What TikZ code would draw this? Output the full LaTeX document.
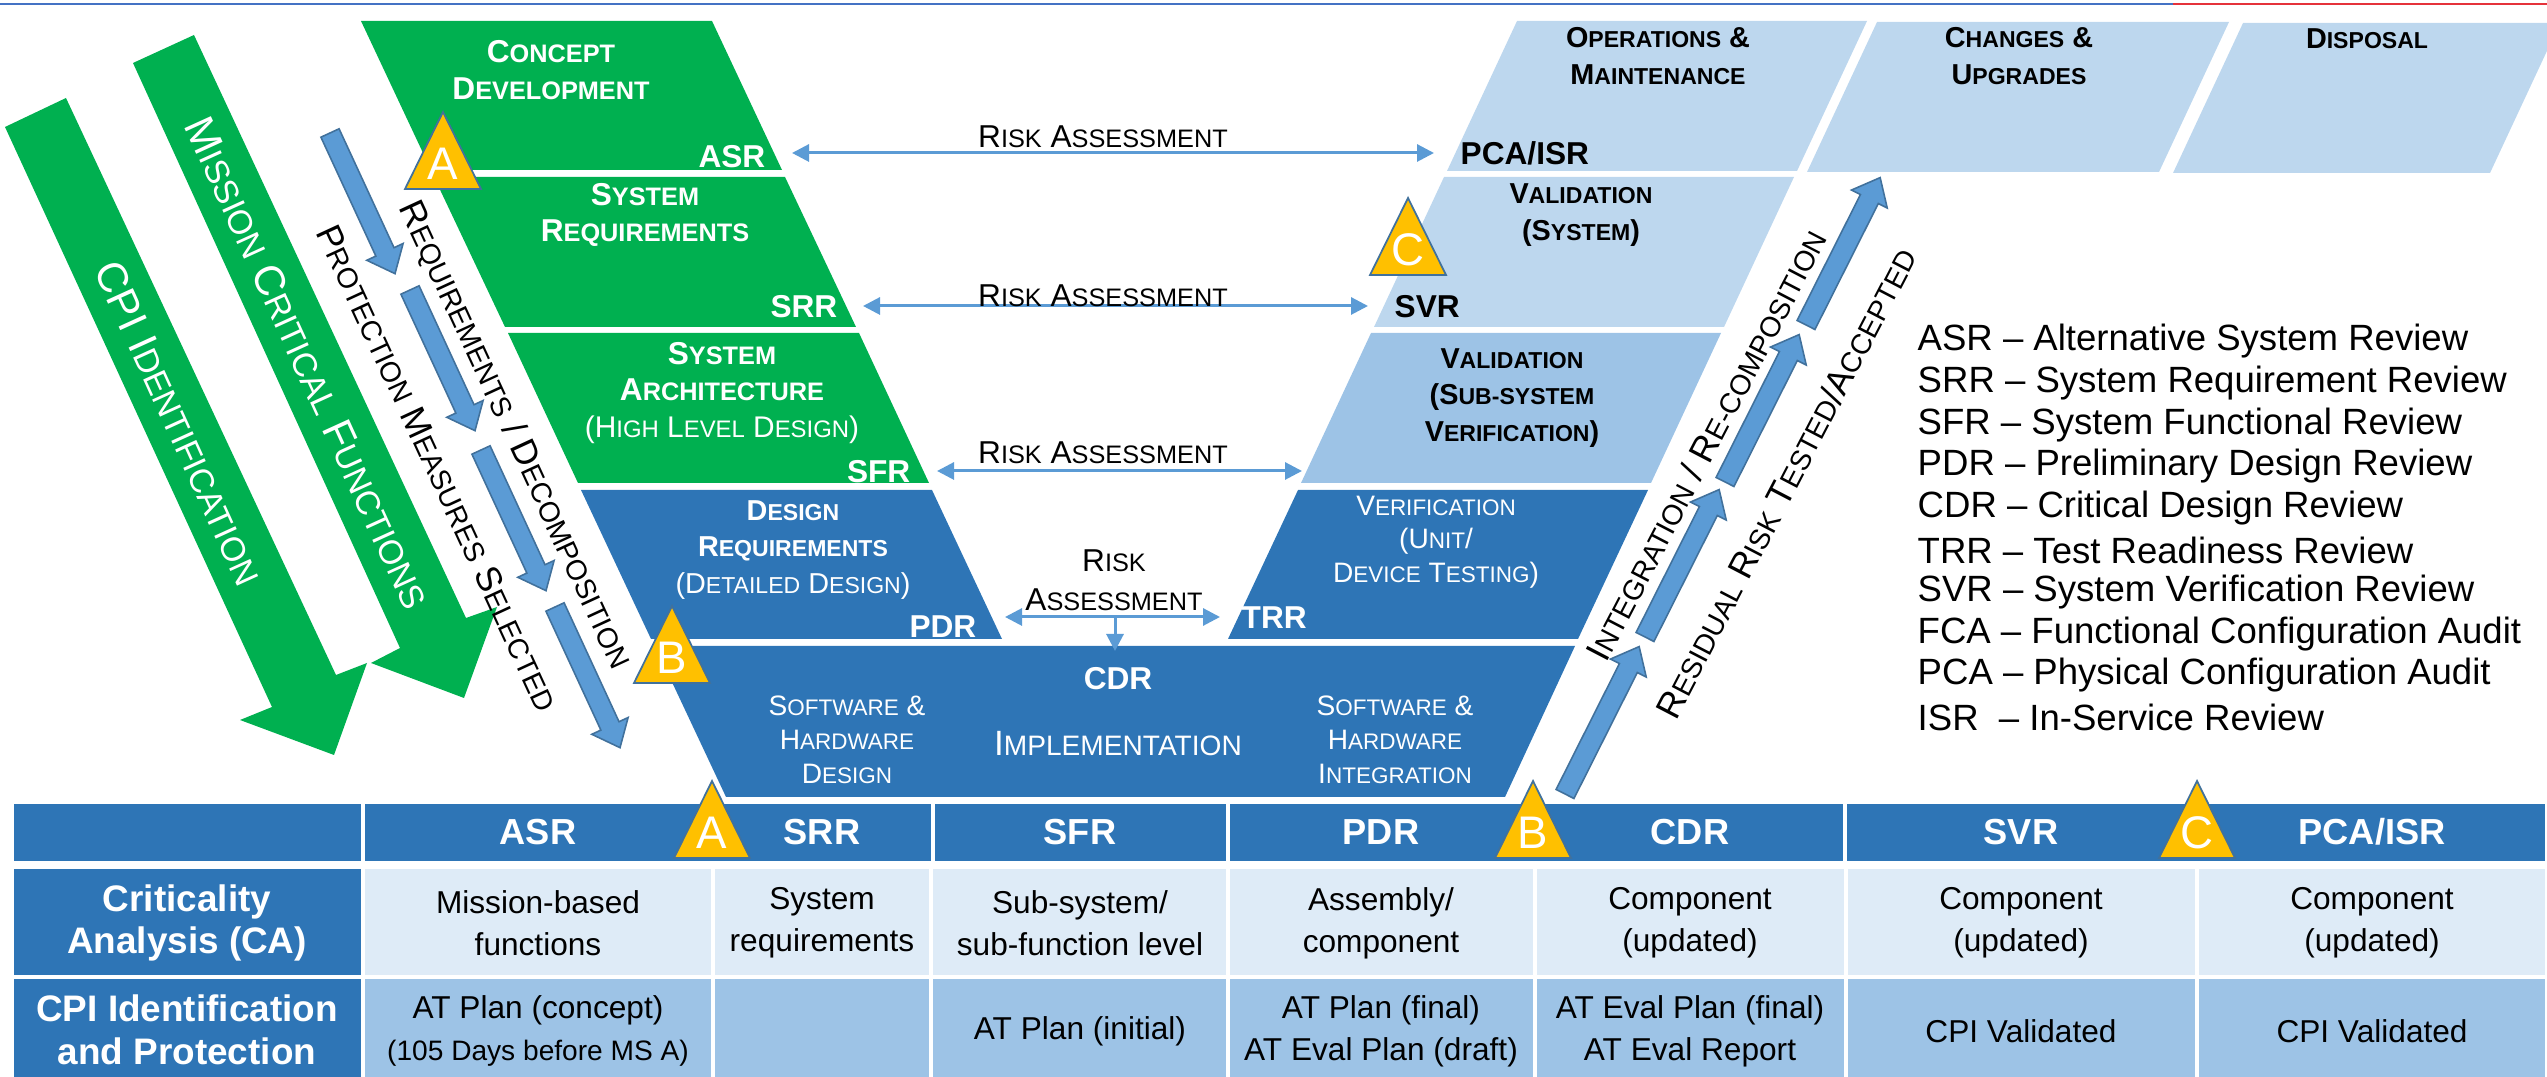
\documentclass[tikz,border=0pt]{standalone}
\usepackage{fontspec}
\setmainfont{Liberation Sans}
\usetikzlibrary{positioning,calc,arrows.meta}

\definecolor{vgreen}{HTML}{00B050}
\definecolor{vblue}{HTML}{2E75B6}
\definecolor{vpale}{HTML}{BDD7EE}
\definecolor{vmid}{HTML}{9DC3E6}
\definecolor{vlight}{HTML}{DEEBF7}
\definecolor{varrow}{HTML}{5B9BD5}
\definecolor{vedge}{HTML}{41719C}
\definecolor{vgold}{HTML}{FFC000}
\definecolor{vline}{HTML}{4472C4}
\definecolor{vred}{HTML}{E5323B}

\makeatletter
\newcommand\smc[1]{{\fontsize{\fpeval{0.8*\f@size}}{\f@baselineskip}\selectfont#1}}
\makeatother

\begin{document}
\begin{tikzpicture}[x=0.1mm, y=-0.1mm,
    every node/.style={inner sep=0pt},
    gtitle/.style={text=white, font=\fontsize{9}{10.3}\selectfont\bfseries, align=center},
    btitle/.style={text=white, font=\fontsize{8.2}{10.5}\selectfont\bfseries, align=center},
    ktitle/.style={text=black, font=\fontsize{8.2}{10.3}\selectfont\bfseries, align=center},
    wsub/.style={text=white, font=\fontsize{8}{9.6}\selectfont, align=center},
    review/.style={font=\fontsize{9}{10}\selectfont\bfseries},
    risktext/.style={font=\fontsize{9}{11}\selectfont, align=center},
    riskarr/.style={draw=varrow, line width=0.85pt, arrows={Triangle[length=1.7mm,width=1.7mm]-Triangle[length=1.7mm,width=1.7mm]}},
    slanttext/.style={font=\fontsize{10.1}{12}\selectfont},
    bigslant/.style={text=white, font=\fontsize{12}{14}\selectfont},
    goldtri/.style={fill=vgold, draw=vedge, line width=0.5pt},
    tletter/.style={text=white, font=\fontsize{13}{15}\selectfont},
    thead/.style={text=white, font=\fontsize{10.3}{12}\selectfont\bfseries},
    tlabel/.style={text=white, font=\fontsize{10.5}{12.2}\selectfont\bfseries, align=center},
    tcell/.style={font=\fontsize{9}{12}\selectfont, align=center},
    legline/.style={anchor=west, font=\fontsize{10.4}{12}\selectfont},
    pics/blockarrow/.style={code={
      \filldraw[fill=varrow, draw=vedge, line width=0.45pt]
        (0,-10) -- ({#1-24},-10) -- ({#1-24},-20) -- (#1,0) -- ({#1-24},20) -- ({#1-24},10) -- (0,10) -- cycle;
    }}
  ]
  \useasboundingbox (0,0) rectangle (2547,1077);
  \clip (0,0) rectangle (2547,1077);

  % rule on top
  \draw[vline, line width=0.65pt] (0,4) -- (2173,4);
  \draw[vred, line width=0.65pt] (2173,4) -- (2547,4);

  % big arrows on the left
  \fill[vgreen] (5,127) -- (66,98) -- (336,675) -- (367,663) -- (334,755) -- (240,720) -- (272,707) -- cycle;
  \fill[vgreen] (133,63) -- (194,35) -- (466,618) -- (497,607) -- (464,698) -- (371,663) -- (400,648) -- cycle;
  \node[bigslant, rotate=-65.5] (cpi) at (179,423) {CPI I\smc{DENTIFICATION}};
  \node[bigslant, rotate=-65.5] (mcf) at (308,363) {M\smc{ISSION} C\smc{RITICAL} F\smc{UNCTIONS}};

  % left branch
  \fill[vgreen] (361,21) -- (712,21) -- (782,170) -- (431,170) -- cycle;
  \fill[vgreen] (434,177) -- (785,177) -- (856,327) -- (505,327) -- cycle;
  \fill[vgreen] (508,333) -- (859,333) -- (929,483) -- (578,483) -- cycle;
  \fill[vblue] (581,490) -- (932,490) -- (1002,639) -- (651,639) -- cycle;
  \fill[vblue] (655,646) -- (1575,646) -- (1505,797) -- (726,797) -- cycle;
  % right branch
  \fill[vblue] (1298,490) -- (1648,490) -- (1578,639) -- (1228,639) -- cycle;
  \fill[vmid] (1371,333) -- (1721,333) -- (1651,483) -- (1301,483) -- cycle;
  \fill[vpale] (1444,177) -- (1794,177) -- (1724,327) -- (1374,327) -- cycle;
  \fill[vpale] (1517,21) -- (1867,21) -- (1797,171) -- (1447,171) -- cycle;
  \fill[vpale] (1877,22) -- (2229,22) -- (2159,172) -- (1807,172) -- cycle;
  \fill[vpale] (2243,23) -- (2560,23) -- (2490,173) -- (2173,173) -- cycle;

  \node[gtitle] (cd) at (551,70) {C\smc{ONCEPT}\\D\smc{EVELOPMENT}};
  \node[gtitle] (sr) at (645,215) {S\smc{YSTEM}\\R\smc{EQUIREMENTS}};
  \node[gtitle] (sa) at (722,393) {S\smc{YSTEM}\\A\smc{RCHITECTURE}\\{\fontsize{8.5}{10}\selectfont\mdseries(H\smc{IGH} L\smc{EVEL} D\smc{ESIGN})}};
  \node[btitle] (dr) at (793,550) {D\smc{ESIGN}\\R\smc{EQUIREMENTS}\\{\mdseries(D\smc{ETAILED} D\smc{ESIGN})}};
  \node[wsub] (shd) at (847,740) {S\smc{OFTWARE} \&\\H\smc{ARDWARE}\\D\smc{ESIGN}};
  \node[wsub] (shi) at (1395,740) {S\smc{OFTWARE} \&\\H\smc{ARDWARE}\\I\smc{NTEGRATION}};
  \node[review, text=white] (cdr) at (1118,679) {CDR};
  \node[text=white, font=\fontsize{10}{12}\selectfont] (impl) at (1118,744) {I\smc{MPLEMENTATION}};
  \node[wsub] (ver) at (1436,542) {V\smc{ERIFICATION}\\(U\smc{NIT}/\\D\smc{EVICE} T\smc{ESTING})};
  \node[ktitle] (vss) at (1512,398) {V\smc{ALIDATION}\\(S\smc{UB-SYSTEM}\\V\smc{ERIFICATION})};
  \node[ktitle] (vsy) at (1581,215) {V\smc{ALIDATION}\\(S\smc{YSTEM})};
  \node[ktitle] (om) at (1658,56) {O\smc{PERATIONS} \&\\M\smc{AINTENANCE}};
  \node[ktitle] (cu) at (2019,56) {C\smc{HANGES} \&\\U\smc{PGRADES}};
  \node[ktitle] (dis) at (2367,39) {D\smc{ISPOSAL}};

  \node[review, text=white, anchor=east] (asr) at (766,157) {ASR};
  \node[review, text=white, anchor=east] (srr) at (838,307) {SRR};
  \node[review, text=white, anchor=east] (sfr) at (911,472) {SFR};
  \node[review, text=white, anchor=east] (pdr) at (977,627) {PDR};
  \node[review, text=white, anchor=west] (trr) at (1241,618) {TRR};
  \node[review, anchor=west] (svr) at (1394,307) {SVR};
  \node[review, anchor=west] (pca) at (1460,153) {PCA/ISR};

  % risk assessment links
  \foreach \i/\xa/\xb/\yy in {1/792/1434/153, 2/863/1368/306, 3/937/1302/471, 4/1005/1220/617}{
    \coordinate (ra\i) at (\xa,\yy);
    \coordinate (rb\i) at (\xb,\yy);
    \draw[riskarr] (ra\i) -- (rb\i);
  }
  \coordinate (rc) at (1115,617);
  \coordinate (rd) at (1115,651);
  \draw[draw=varrow, line width=0.85pt, -{Triangle[length=1.7mm,width=1.7mm]}] (rc) -- (rd);
  \node[risktext] (rt1) at (1103,137) {R\smc{ISK} A\smc{SSESSMENT}};
  \node[risktext] (rt2) at (1103,296) {R\smc{ISK} A\smc{SSESSMENT}};
  \node[risktext] (rt3) at (1103,453) {R\smc{ISK} A\smc{SSESSMENT}};
  \node[risktext] (rt4) at (1114,580) {R\smc{ISK}\\A\smc{SSESSMENT}};

  % small block arrows
  \foreach \sx/\sy in {330/133, 410/290, 481/450, 555/607}
    \pic[rotate=-65.2] at (\sx,\sy) {blockarrow=155};
  \foreach \sx/\sy in {1565/794, 1645/637, 1725/482, 1806/325}
    \pic[rotate=63.3] at (\sx,\sy) {blockarrow=165};
  \node[slanttext, rotate=-65.2] (pms) at (438,468) {P\smc{ROTECTION} M\smc{EASURES} S\smc{ELECTED}};
  \node[slanttext, rotate=-65.2] (rqd) at (515,435) {R\smc{EQUIREMENTS} / D\smc{ECOMPOSITION}};
  \node[slanttext, rotate=62.5] (irc) at (1706,445) {I\smc{NTEGRATION} / R\smc{E-COMPOSITION}};
  \node[slanttext, rotate=62.5] (rrt) at (1786,483) {R\smc{ESIDUAL} R\smc{ISK} T\smc{ESTED}/A\smc{CCEPTED}};

  % legend
  \foreach \i/\ab/\txt in {0/ASR/Alternative System Review, 1/SRR/System Requirement Review,
      2/SFR/System Functional Review, 3/PDR/Preliminary Design Review, 4/CDR/Critical Design Review,
      5/TRR/Test Readiness Review, 6/SVR/System Verification Review, 7/FCA/Functional Configuration Audit,
      8/PCA/Physical Configuration Audit}
    \node[legline] (leg\i) at (1917,341+41.8*\i) {\ab\ – \txt};
  \node[legline] (leg9) at (1917,717) {ISR\ \ – In-Service Review};

  % table
  \foreach \xa/\xb in {14/361, 365/931, 935/1226, 1230/1843, 1847/2545}
    \fill[vblue] (\xa,804) rectangle (\xb,861);
  \fill[vblue] (14,869) rectangle (361,975);
  \fill[vblue] (14,979) rectangle (361,1077);
  \foreach \xa/\xb in {365/711, 715/929, 933/1226, 1230/1533, 1537/1844, 1848/2195, 2199/2545}{
    \fill[vlight] (\xa,869) rectangle (\xb,975);
    \fill[vmid] (\xa,979) rectangle (\xb,1077);
  }
  \foreach \cx/\lab in {538/ASR, 822/SRR, 1080/SFR, 1381/PDR, 1690/CDR, 2021/SVR}
    \node[thead] (h\lab) at (\cx,832) {\lab};
  \node[thead] (hPCA) at (2372,832) {PCA/ISR};

  \node[tlabel] (ca) at (187,923) {Criticality\\Analysis (CA)};
  \node[tlabel] (cpip) at (187,1030) {CPI Identification\\and Protection};
  \node[tcell] (c1) at (538,923) {Mission-based\\functions};
  \node[tcell] (c2) at (822,923) {System\\requirements};
  \node[tcell] (c3) at (1080,923) {Sub-system/\\sub-function level};
  \node[tcell] (c4) at (1381,923) {Assembly/\\component};
  \node[tcell] (c5) at (1690,923) {Component\\(updated)};
  \node[tcell] (c6) at (2021,923) {Component\\(updated)};
  \node[tcell] (c7) at (2372,923) {Component\\(updated)};
  \node[tcell] (p1) at (538,1031) {AT Plan (concept)\\{\fontsize{8}{11.7}\selectfont(105 Days before MS A)}};
  \node[tcell] (p3) at (1080,1031) {AT Plan (initial)};
  \node[tcell] (p4) at (1381,1031) {AT Plan (final)\\AT Eval Plan (draft)};
  \node[tcell] (p5) at (1690,1031) {AT Eval Plan (final)\\AT Eval Report};
  \node[tcell] (p6) at (2021,1031) {CPI Validated};
  \node[tcell] (p7) at (2372,1031) {CPI Validated};

  % milestones
  \foreach \tx/\ty/\tl/\tn in {443/112/A/triA, 672/606/B/triB, 1408/198/C/triC, 712/781/A/tabA, 1533/781/B/tabB, 2197/781/C/tabC}{
    \filldraw[goldtri] (\tx,\ty) -- ++(38,77) -- ++(-76,0) -- cycle;
    \node[tletter] (\tn) at (\tx,\ty+52) {\tl};
  }
\end{tikzpicture}
\end{document}
